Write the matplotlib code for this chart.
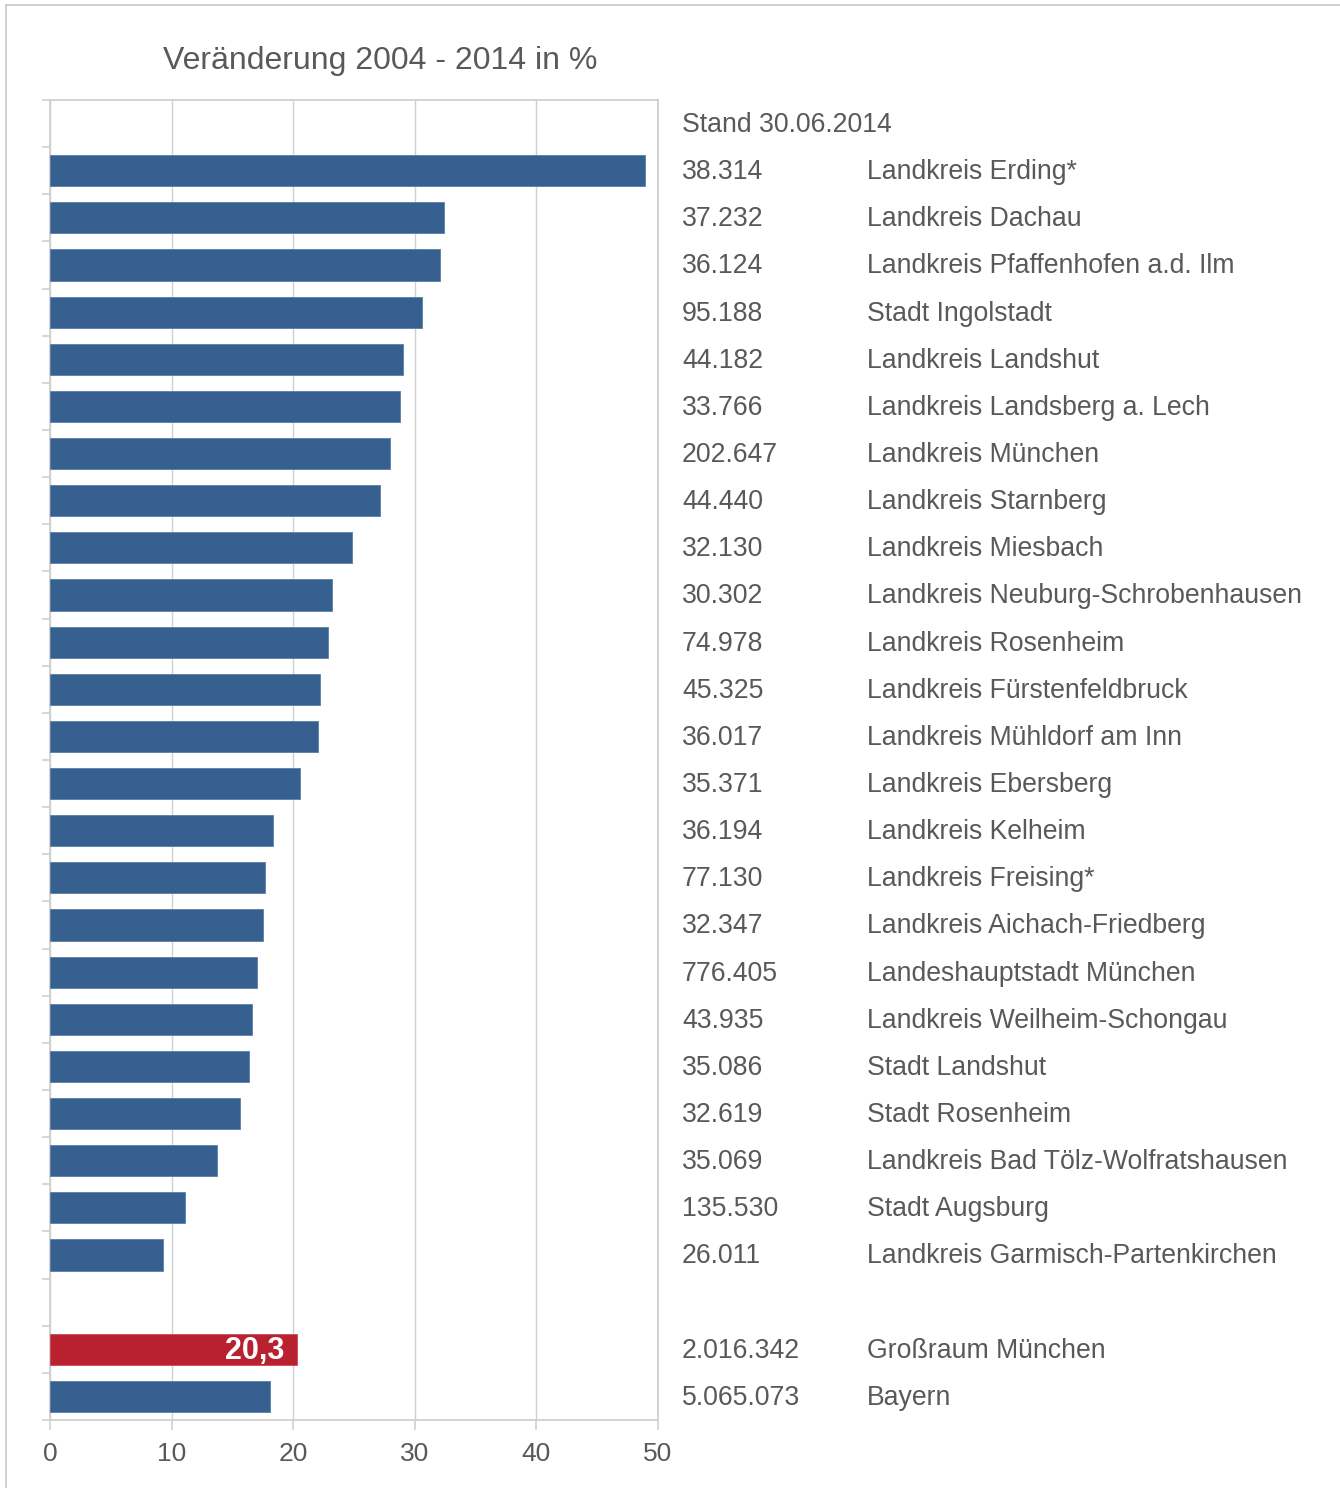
import matplotlib
matplotlib.use("Agg")
import matplotlib.pyplot as plt
from matplotlib.transforms import blended_transform_factory
from matplotlib.lines import Line2D

plt.rcParams['font.family'] = ['Liberation Sans', 'DejaVu Sans']

regions = ["Landkreis Erding*", "Landkreis Dachau", "Landkreis Pfaffenhofen a.d. Ilm",
           "Stadt Ingolstadt", "Landkreis Landshut", "Landkreis Landsberg a. Lech",
           "Landkreis München", "Landkreis Starnberg", "Landkreis Miesbach",
           "Landkreis Neuburg-Schrobenhausen", "Landkreis Rosenheim",
           "Landkreis Fürstenfeldbruck", "Landkreis Mühldorf am Inn", "Landkreis Ebersberg",
           "Landkreis Kelheim", "Landkreis Freising*", "Landkreis Aichach-Friedberg",
           "Landeshauptstadt München", "Landkreis Weilheim-Schongau", "Stadt Landshut",
           "Stadt Rosenheim", "Landkreis Bad Tölz-Wolfratshausen", "Stadt Augsburg",
           "Landkreis Garmisch-Partenkirchen"]
counts = ["38.314", "37.232", "36.124", "95.188", "44.182", "33.766", "202.647", "44.440",
          "32.130", "30.302", "74.978", "45.325", "36.017", "35.371", "36.194", "77.130",
          "32.347", "776.405", "43.935", "35.086", "32.619", "35.069", "135.530", "26.011"]
changes = [48.9, 32.4, 32.1, 30.6, 29.0, 28.8, 28.0, 27.1, 24.8, 23.2, 22.9, 22.2, 22.0,
           20.6, 18.3, 17.7, 17.5, 17.0, 16.6, 16.4, 15.6, 13.7, 11.1, 9.3]

summary_names = ["Großraum München", "Bayern"]
summary_counts = ["2.016.342", "5.065.073"]
summary_changes = [20.3, 18.1]
highlight_label = "20,3"

title = "Veränderung 2004 - 2014 in %"
header = "Stand 30.06.2014"
xticks = [0, 10, 20, 30, 40, 50]

BLUE = "#36608F"
RED = "#BA2130"
GREY_TXT = "#595959"
GRID = "#D0D0D0"

W, H = 1340, 1488
fig = plt.figure(figsize=(W / 100, H / 100), dpi=100)
ax = fig.add_axes([50 / W, 1 - 1420 / H, 608 / W, 1320 / H])

n_rows = 1 + len(regions) + 1 + len(summary_names)
pos_main = list(range(1, 1 + len(regions)))
pos_sum = list(range(len(regions) + 2, len(regions) + 2 + len(summary_names)))

bh = 0.66
ax.barh(pos_main, changes, height=bh, color=BLUE, edgecolor="#5A7FA8", linewidth=0.6, zorder=3)
sum_colors = [RED, BLUE]
ax.barh(pos_sum, summary_changes, height=bh, color=sum_colors,
        edgecolor=["#C94A55", "#5A7FA8"], linewidth=0.6, zorder=3)

ax.text(summary_changes[0] - 1.0, pos_sum[0] + 0.03, highlight_label, ha="right", va="center",
        color="white", fontsize=22, fontweight="bold", zorder=4)

ax.set_xlim(0, 50)
ax.set_ylim(n_rows - 0.5, -0.5)
ax.set_xticks(xticks)
ax.set_xticklabels([str(t) for t in xticks])
ax.tick_params(axis="x", colors=GRID, labelcolor=GREY_TXT, labelsize=19, length=7, width=1.2, pad=9)
ax.set_yticks([i + 0.5 for i in range(-1, n_rows)])
ax.set_yticklabels([])
ax.tick_params(axis="y", colors=GRID, length=6, width=1.2)
ax.grid(axis="x", color=GRID, linewidth=1.0, zorder=0)
for s in ax.spines.values():
    s.set_color(GRID)
    s.set_linewidth(1.3)

trans = blended_transform_factory(fig.transFigure, ax.transData)
x_cnt = 682 / W
x_name = 867 / W
fs = 19.2
dy = 0.03
ax.text(x_cnt, 0 + dy, header, transform=trans, ha="left", va="center", fontsize=fs,
        color=GREY_TXT, clip_on=False)
for p, c, r in zip(pos_main, counts, regions):
    ax.text(x_cnt, p + dy, c, transform=trans, ha="left", va="center", fontsize=fs,
            color=GREY_TXT, clip_on=False)
    ax.text(x_name, p + dy, r, transform=trans, ha="left", va="center", fontsize=fs,
            color=GREY_TXT, clip_on=False)
for p, c, r in zip(pos_sum, summary_counts, summary_names):
    ax.text(x_cnt, p + dy, c, transform=trans, ha="left", va="center", fontsize=fs,
            color=GREY_TXT, clip_on=False)
    ax.text(x_name, p + dy, r, transform=trans, ha="left", va="center", fontsize=fs,
            color=GREY_TXT, clip_on=False)

fig.text(380 / W, 1 - 61 / H, title, ha="center", va="center", fontsize=23, color=GREY_TXT)

# outer frame
fig.add_artist(Line2D([6 / W, 1.0], [1 - 5 / H, 1 - 5 / H], transform=fig.transFigure,
                      color="#C8C8C8", linewidth=1.2))
fig.add_artist(Line2D([6 / W, 6 / W], [0, 1 - 5 / H], transform=fig.transFigure,
                      color="#C8C8C8", linewidth=1.2))

fig.savefig("out.png", dpi=100, facecolor="white")
